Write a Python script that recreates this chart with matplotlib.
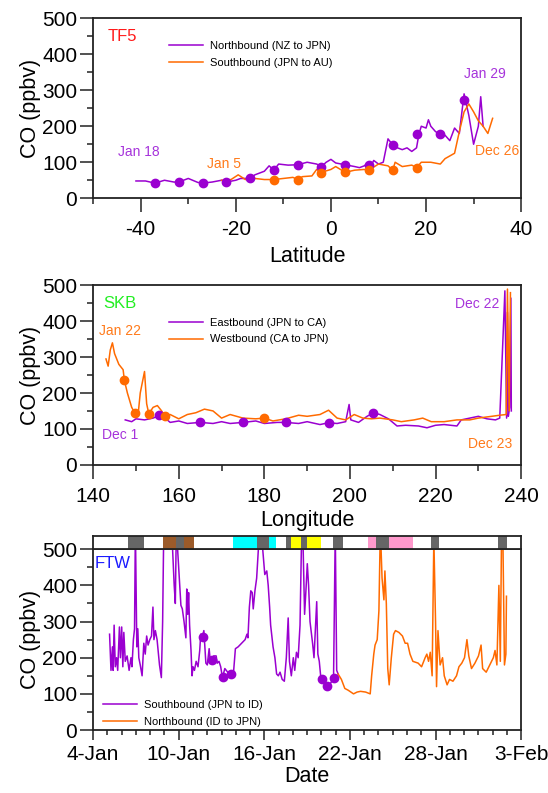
import numpy as np
import matplotlib.pyplot as plt
from matplotlib.ticker import MultipleLocator

plt.rcParams['font.family'] = ['Liberation Sans', 'DejaVu Sans']
plt.rcParams['axes.unicode_minus'] = False

# ---- TF5 : CO vs latitude ----
tf5_n_lat = [-41, -39, -37, -35, -33, -32, -30, -28, -27, -25, -23, -22, -20, -19, -17, -16,
             -14, -13, -12, -11, -9, -7, -5, -3, -2, -1, 0, 1, 3, 5, 6, 7, 8, 8.5, 9, 10, 11,
             12, 13, 14, 15, 16, 17, 18, 18.5, 19, 20, 20.5, 21, 22, 23, 24, 25, 26, 27, 28,
             28.3, 29, 30, 31, 31.5, 32]
tf5_n_co = [48, 48, 42, 50, 45, 45, 55, 44, 42, 45, 50, 45, 50, 55, 55, 65,
            75, 90, 78, 95, 92, 93, 100, 95, 88, 100, 108, 98, 93, 88, 85, 90, 100, 92, 105, 95, 100,
            165, 148, 140, 135, 140, 130, 140, 178, 200, 195, 218, 200, 185, 178, 175, 160, 195, 180, 290,
            272, 230, 150, 200, 282, 200]
tf5_n_dot_lat = [-37, -32, -27, -22, -17, -12, -7, -2, 3, 8, 13, 18, 23, 28]
tf5_n_dot_co = [43, 45, 42, 45, 55, 78, 93, 88, 93, 92, 148, 178, 178, 272]

tf5_s_lat = [-23, -21, -19.5, -18, -16, -14, -12, -10, -8, -7, -6, -4, -3, -2, 0, 1, 2, 3, 5, 7, 8,
             10, 12, 13, 13.5, 15, 17, 18, 19, 21, 23, 24, 26, 27, 28, 29, 30, 31, 32, 33, 34]
tf5_s_co = [50, 52, 65, 52, 55, 52, 52, 55, 58, 52, 60, 62, 80, 72, 80, 88, 80, 72, 78, 80, 78,
            95, 90, 78, 100, 88, 92, 85, 100, 100, 95, 110, 125, 185, 240, 262, 240, 215, 200, 180, 222]
tf5_s_dot_lat = [-12, -7, -2, 3, 8, 13, 18]
tf5_s_dot_co = [50, 50, 70, 73, 78, 78, 85]

# ---- SKB : CO vs longitude ----
skb_e_lon = [147.5, 149, 150, 152, 154, 155.5, 157, 158, 160, 162, 165, 168, 170, 172, 175, 178,
             180, 183, 185, 188, 190, 193, 195, 197, 199, 199.8, 200.2, 202, 204, 205.5, 207, 209,
             211, 213, 216, 218, 220, 222, 225, 226, 228, 230, 232, 234, 235, 236.2, 236.6, 236.8,
             237.0, 237.3, 237.6, 237.7]
skb_e_co = [125, 120, 128, 125, 130, 138, 128, 118, 122, 115, 118, 115, 120, 115, 118, 122,
            115, 118, 118, 115, 120, 112, 117, 115, 120, 168, 125, 118, 135, 145, 140, 128,
            108, 110, 108, 103, 110, 112, 108, 125, 130, 135, 128, 125, 130, 485, 130, 425,
            135, 160, 465, 150]
skb_e_dot_lon = [155.5, 165, 175, 185, 195, 205.5]
skb_e_dot_co = [138, 118, 118, 118, 117, 145]

skb_w_lon = [143, 143.5, 144, 144.5, 145, 146, 147, 147.3, 148, 149, 149.7, 150.5, 151, 151.5, 152,
             152.5, 153, 154, 155, 156, 156.7, 158, 160, 162, 164, 166, 168, 170, 172, 175, 178,
             180, 182, 185, 188, 190, 193, 195, 197, 199, 201, 203, 205, 207, 210, 212, 215, 217,
             219, 222, 225, 228, 230, 235, 236.5, 236.8, 237.2, 237.5]
skb_w_co = [295, 275, 320, 340, 310, 280, 265, 235, 200, 160, 145, 140, 200, 230, 260,
            170, 142, 160, 165, 150, 135, 140, 128, 140, 145, 155, 150, 130, 140, 130, 128,
            130, 122, 128, 138, 135, 140, 152, 130, 125, 140, 130, 128, 130, 125, 120, 125, 130,
            120, 120, 125, 125, 130, 138, 140, 490, 150, 480]
skb_w_dot_lon = [147.3, 149.7, 153, 156.7, 180]
skb_w_dot_co = [235, 145, 142, 135, 130]

# ---- FTW : CO vs date (day of January) ----
ftw_s_day = [5.15, 5.25, 5.35, 5.4, 5.47, 5.55, 5.64, 5.72, 5.84, 5.91, 6.0, 6.08, 6.15, 6.25,
             6.38, 6.52, 6.65, 6.72, 6.82, 6.9, 6.96, 7.06, 7.13, 7.2, 7.3, 7.43, 7.55, 7.65,
             7.75, 7.85, 7.97, 8.09, 8.19, 8.26, 8.36, 8.48, 8.65, 8.78, 8.87, 8.95, 9.22, 9.5,
             9.68, 9.76, 9.83, 10.15, 10.25, 10.37, 10.5, 10.56, 10.63, 10.69, 10.76, 10.86, 10.93,
             11.0, 11.1, 11.22, 11.35, 11.47, 11.54, 11.67, 11.76, 11.9, 12.0, 12.13, 12.2, 12.33,
             12.45, 12.62, 12.7, 12.82, 12.94, 13.06, 13.23, 13.43, 13.67, 13.85, 13.97, 14.16,
             14.4, 14.65, 14.78, 14.85, 14.95, 15.05, 15.15, 15.22, 15.34, 15.46, 15.58, 15.76,
             15.93, 16.03, 16.17, 16.27, 16.37, 16.44, 16.61, 16.74, 16.86, 16.98, 17.1, 17.25,
             17.4, 17.54, 17.67, 17.76, 17.89, 18.03, 18.13, 18.25, 18.37, 18.5, 18.62, 18.72,
             18.82, 18.92, 19.01, 19.1, 19.2, 19.38, 19.48, 19.58, 19.67, 19.75, 19.85, 19.97,
             20.17, 20.41, 20.65, 20.85, 20.97, 21.07, 21.17]
ftw_s_co = [265, 165, 230, 165, 290, 175, 200, 165, 285, 200, 285, 175, 270, 190,
            205, 165, 200, 175, 250, 280, 560, 230, 280, 200, 180, 150, 240, 210,
            260, 235, 250, 260, 340, 250, 275, 250, 180, 145, 300, 560, 560, 560,
            400, 350, 560, 345, 335, 300, 255, 390, 320, 380, 290, 220, 150,
            175, 165, 190, 175, 220, 265, 260, 275, 185, 180, 225, 195, 193,
            205, 205, 185, 190, 175, 145, 170, 160, 155, 165, 225, 230,
            240, 250, 265, 255, 340, 385, 380, 335, 385, 420, 500, 560,
            480, 430, 440, 400, 340, 290, 230, 200, 155, 150, 160, 140,
            135, 200, 310, 190, 150, 200, 165, 215, 200, 290, 560, 500,
            320, 390, 460, 400, 300, 240, 200, 280, 355, 210, 190, 140,
            130, 122, 130, 143, 550, 165, 155]
ftw_s_dot_day = [11.67, 12.35, 13.1, 13.67, 20.03, 20.4, 20.85]
ftw_s_dot_co = [258, 193, 147, 155, 140, 122, 143]

ftw_n_day = [21.17, 21.4, 21.64, 21.88, 22.25, 22.5, 22.74, 23.1, 23.42, 23.52, 23.67, 23.76,
             23.91, 24.03, 24.13, 24.25, 24.38, 24.45, 24.55, 24.65, 24.75, 24.9, 25.06, 25.19,
             25.43, 25.68, 25.87, 26.04, 26.21, 26.41, 26.78, 27.02, 27.27, 27.39, 27.51, 27.63,
             27.76, 27.88, 28.0, 28.07, 28.17, 28.32, 28.49, 28.61, 28.81, 28.98, 29.22, 29.47,
             29.64, 29.84, 30.03, 30.2, 30.33, 30.52, 30.76, 31.01, 31.19, 31.3, 31.55, 31.8,
             32.05, 32.17, 32.3, 32.44, 32.54, 32.63, 32.73, 32.83, 32.93, 32.97]
ftw_n_co = [155, 140, 115, 110, 100, 105, 107, 105, 100, 150, 210, 235,
            250, 330, 560, 420, 360, 440, 350, 170, 125, 200, 265, 275,
            270, 260, 240, 240, 210, 190, 185, 175, 200, 210, 190, 215,
            150, 530, 300, 120, 275, 180, 200, 150, 125, 140, 135, 150,
            175, 185, 200, 250, 205, 170, 185, 205, 235, 170, 160, 180,
            200, 220, 180, 400, 190, 560, 500, 180, 210, 370]

# colour strip above the FTW panel: (start day, end day, colour)
strip_start = [6.46, 8.87, 9.81, 10.37, 13.8, 15.48, 16.3, 17.55, 17.9, 18.6, 19.02, 20.83,
               23.29, 23.85, 24.76, 27.67, 32.4]
strip_end = [7.56, 9.81, 10.37, 11.08, 15.48, 16.3, 16.84, 17.9, 18.6, 19.02, 19.94, 21.5,
             23.85, 24.76, 26.45, 28.26, 33.01]
strip_color = ['#666666', '#9C5B2A', '#666666', '#9C5B2A', '#00FFFF', '#666666', '#00FFFF',
               '#666666', '#FFFF00', '#666666', '#FFFF00', '#666666', '#FF99CC', '#666666',
               '#FF99CC', '#666666', '#666666']

date_ticks = [4, 10, 16, 22, 28, 34]
date_labels = ['4-Jan', '10-Jan', '16-Jan', '22-Jan', '28-Jan', '3-Feb']

purple = '#9A00D0'
orange = '#FF6A00'
purple_txt = '#A633DB'
orange_txt = '#FF7A1A'
spine_col = '#222222'

fig = plt.figure(figsize=(5.48, 7.93), dpi=100)
ax1 = fig.add_axes([0.170, 0.750, 0.781, 0.227])
ax2 = fig.add_axes([0.170, 0.414, 0.781, 0.226])
ax3 = fig.add_axes([0.170, 0.0794, 0.781, 0.228])
axs = fig.add_axes([0.170, 0.308, 0.781, 0.016])


def style(ax):
    for s in ax.spines.values():
        s.set_linewidth(1.3)
        s.set_color(spine_col)
    ax.set_ylim(0, 500)
    ax.yaxis.set_major_locator(MultipleLocator(100))
    ax.yaxis.set_minor_locator(MultipleLocator(50))
    ax.tick_params(which='major', direction='out', length=9.5, width=1.1, color=spine_col,
                   labelsize=15, top=False, right=False, pad=2)
    ax.tick_params(which='minor', direction='out', length=4.5, width=1.1, color=spine_col,
                   top=False, right=False)
    ax.set_ylabel('CO (ppbv)', fontsize=15.5, labelpad=1)


# panel 1
ax1.plot(tf5_n_lat, tf5_n_co, color=purple, lw=1.1, label='Northbound (NZ to JPN)')
ax1.plot(tf5_s_lat, tf5_s_co, color=orange, lw=1.1, label='Southbound (JPN to AU)')
ax1.plot(tf5_n_dot_lat, tf5_n_dot_co, 'o', color=purple, ms=6)
ax1.plot(tf5_s_dot_lat, tf5_s_dot_co, 'o', color=orange, ms=6)
style(ax1)
ax1.set_xlim(-50, 40)
ax1.xaxis.set_major_locator(MultipleLocator(20))
ax1.xaxis.set_minor_locator(MultipleLocator(10))
ax1.tick_params(axis='x', which='major', length=10, pad=6)
ax1.set_xlabel('Latitude', fontsize=15.5, labelpad=5)
ax1.text(-47, 449, 'TF5', color='#FF1A1A', fontsize=12, va='center')
ax1.text(-44.8, 128, 'Jan 18', color=purple_txt, fontsize=10, va='center')
ax1.text(-26, 95, 'Jan 5', color=orange_txt, fontsize=10, va='center')
ax1.text(28, 346, 'Jan 29', color=purple_txt, fontsize=10, va='center')
ax1.text(30.4, 130, 'Dec 26', color=orange_txt, fontsize=10, va='center')
ax1.legend(loc='upper left', bbox_to_anchor=(0.177, 0.873), frameon=False, fontsize=8,
           handlelength=3.1, handletextpad=0.6, labelspacing=0.6, borderpad=0, borderaxespad=0)

# panel 2
ax2.plot(skb_e_lon, skb_e_co, color=purple, lw=1.1, label='Eastbound (JPN to CA)')
ax2.plot(skb_w_lon, skb_w_co, color=orange, lw=1.1, label='Westbound (CA to JPN)')
ax2.plot(skb_e_dot_lon, skb_e_dot_co, 'o', color=purple, ms=6)
ax2.plot(skb_w_dot_lon, skb_w_dot_co, 'o', color=orange, ms=6)
style(ax2)
ax2.set_xlim(140, 240)
ax2.xaxis.set_major_locator(MultipleLocator(20))
ax2.xaxis.set_minor_locator(MultipleLocator(10))
ax2.tick_params(axis='x', which='major', length=10, pad=6)
ax2.set_xlabel('Longitude', fontsize=15.5, labelpad=3)
ax2.text(142.4, 449, 'SKB', color='#22EE22', fontsize=12, va='center')
ax2.text(141.3, 372, 'Jan 22', color=orange_txt, fontsize=10, va='center')
ax2.text(142, 83, 'Dec 1', color=purple_txt, fontsize=10, va='center')
ax2.text(224.5, 447, 'Dec 22', color=purple_txt, fontsize=10, va='center')
ax2.text(227.6, 58, 'Dec 23', color=orange_txt, fontsize=10, va='center')
ax2.legend(loc='upper left', bbox_to_anchor=(0.177, 0.82), frameon=False, fontsize=8,
           handlelength=3.1, handletextpad=0.6, labelspacing=0.6, borderpad=0, borderaxespad=0)

# panel 3
ax3.plot(ftw_s_day, ftw_s_co, color=purple, lw=1.1, label='Southbound (JPN to ID)')
ax3.plot(ftw_n_day, ftw_n_co, color=orange, lw=1.1, label='Northbound (ID to JPN)')
ax3.plot(ftw_s_dot_day, ftw_s_dot_co, 'o', color=purple, ms=6)
style(ax3)
ax3.set_xlim(4, 34)
ax3.set_xticks(date_ticks)
ax3.set_xticklabels(date_labels)
ax3.xaxis.set_minor_locator(MultipleLocator(1))
ax3.tick_params(axis='x', which='major', length=7.5, pad=3)
ax3.tick_params(axis='x', which='minor', length=3.5)
ax3.set_xlabel('Date', fontsize=15.5, labelpad=2)
ax3.text(4.12, 461, 'FTW', color='#1A1AFF', fontsize=12, va='center')
ax3.legend(loc='upper left', bbox_to_anchor=(0.023, 0.165), frameon=False, fontsize=8,
           handlelength=3.1, handletextpad=0.6, labelspacing=0.6, borderpad=0, borderaxespad=0)

# strip
axs.set_xlim(4, 34)
axs.set_ylim(0, 1)
for a, b, c in zip(strip_start, strip_end, strip_color):
    axs.axvspan(a, b, color=c, lw=0)
axs.set_xticks([])
axs.set_yticks([])
for s in axs.spines.values():
    s.set_linewidth(1.3)
    s.set_color(spine_col)

fig.savefig('out.png', dpi=100)
